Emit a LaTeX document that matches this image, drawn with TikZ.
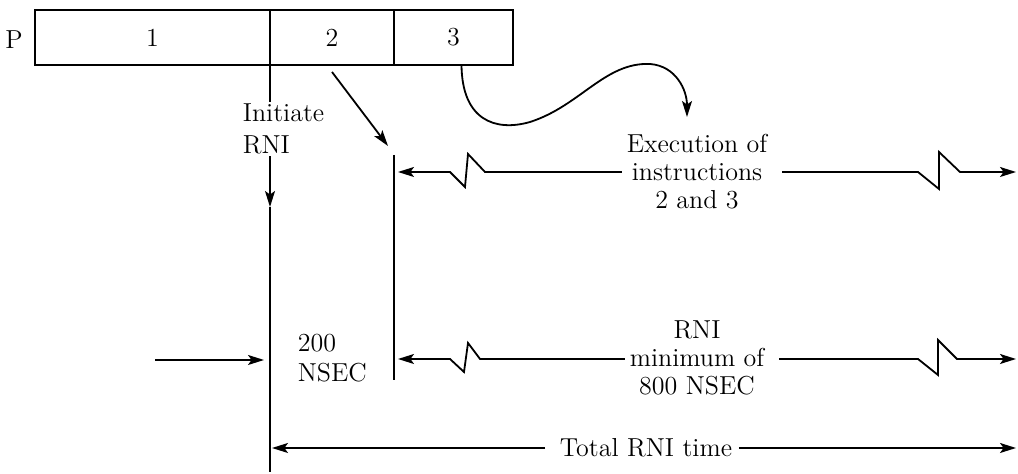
\documentclass[tikz,border=0pt]{standalone}
\usetikzlibrary{arrows.meta}
\begin{document}
\begin{tikzpicture}[x=0.5pt,y=-0.5pt, line width=0.9pt,
  arr/.style={-{Stealth[length=8pt,width=5pt,inset=1.8pt]}},
  lbl/.style={font=\fontsize{13}{14}\selectfont, inner sep=1pt},
  cell/.style={draw, minimum height=27.5pt, inner sep=0pt, outer sep=0pt, anchor=north west,
    font=\fontsize{13}{14}\selectfont}]
\useasboundingbox (0,0) rectangle (1018,474);
% instruction word
\node[cell, minimum width=117.5pt] (c1) at (35,10) {1};
\node[cell, minimum width=62pt] (c2) at (c1.north east) {2};
\node[cell, minimum width=59.5pt] (c3) at (c2.north east) {3};
\node[lbl] (p) at (14,40) {P};
% coordinates
\coordinate (v1a) at (270,207);
\coordinate (v1b) at (270,472);
\coordinate (v2t) at (394,155);
\coordinate (v2b) at (394,380);
\coordinate (a2) at (388,146);
\coordinate (cv) at (687,117);
\coordinate (exL) at (398,172);
\coordinate (exR) at (1016,172);
\coordinate (rnL) at (398,359);
\coordinate (rnR) at (1016,359);
\coordinate (totL) at (272,448);
\coordinate (totR) at (1016,448);
\coordinate (la) at (155,360);
\coordinate (lb) at (264,360);
% initiate RNI line
\draw[arr] (c1.south east) -- (c1.south east |- v1a);
\draw (v1a) -- (v1b);
\node[lbl, fill=white, align=left, anchor=west, font=\fontsize{13}{16}\selectfont] (init) at (240,129) {Initiate\\RNI};
% vertical line at start of execution
\draw (v2t) -- (v2b);
% arrow from 2
\draw[arr] ([yshift=-3.5pt]c2.south) -- (a2);
% curve from 3
\draw[arr] ([xshift=4pt]c3.south) .. controls (462,120) and (495,132) .. (530,122)
  .. controls (580,106) and (605,62) .. (650,64)
  .. controls (676,66) and (687,90) .. (cv);
% execution of instructions
\node[lbl, align=center] (ex) at (697,172) {Execution of\\instructions\\2 and 3};
\draw[arr] ([xshift=-1pt]ex.west |- exL) -- (485,172) -- (468,154) -- (465,187) -- (450,172) -- (exL);
\draw[arr] ([xshift=6pt]ex.east |- exR) -- (918,172) -- (939,189) -- (939,152) -- (960,172) -- (exR);
% RNI minimum
\node[lbl, align=center] (rn) at (697,358) {RNI\\minimum of\\800 NSEC};
\draw[arr] ([xshift=-1pt]rn.west |- rnL) -- (480,359) -- (468,343) -- (464,372) -- (450,359) -- (rnL);
\draw[arr] ([xshift=6pt]rn.east |- rnR) -- (918,359) -- (938,375) -- (938,340) -- (957,359) -- (rnR);
% 200 NSEC
\node[lbl, align=left, anchor=west, font=\fontsize{13}{15}\selectfont] (ns) at (295,358) {200\\NSEC};
\draw[arr] (la) -- (lb);
% total
\node[lbl] (tot) at (646,448) {Total RNI time};
\draw[arr] ([xshift=-6pt]tot.west) -- (totL);
\draw[arr] ([xshift=2pt]tot.east) -- (totR);
\end{tikzpicture}
\end{document}
